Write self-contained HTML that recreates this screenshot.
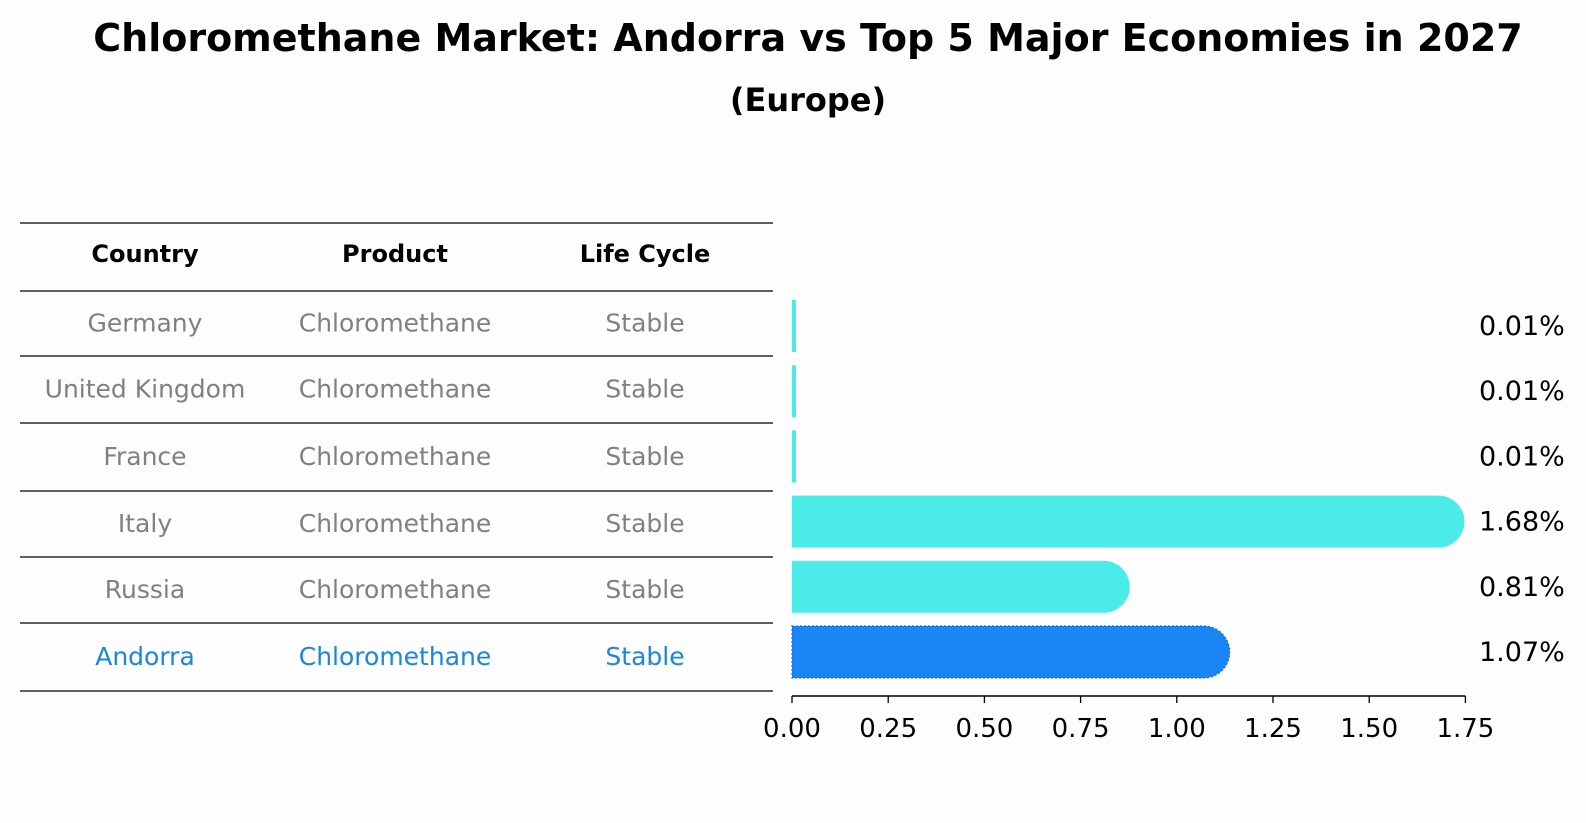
<!DOCTYPE html>
<html><head><meta charset="utf-8"><style>
html,body{margin:0;padding:0;background:#fdfdfd;}
svg{display:block;font-family:"DejaVu Sans","Liberation Sans",sans-serif;}
</style></head><body>
<svg id="chart" width="1586" height="823" viewBox="0 0 1586 823">
<rect width="1586" height="823" fill="#fdfdfd"/>
<text x="808" y="51" text-anchor="middle" font-size="38" font-weight="bold">Chloromethane Market: Andorra vs Top 5 Major Economies in 2027</text>
<text x="808" y="111" text-anchor="middle" font-size="32" font-weight="bold">(Europe)</text>
<g id="table"></g>
<g id="bars"></g>
</svg>
<script>
const countries = ["Germany","United Kingdom","France","Italy","Russia","Andorra"];
const products = ["Chloromethane","Chloromethane","Chloromethane","Chloromethane","Chloromethane","Chloromethane"];
const lifeCycles = ["Stable","Stable","Stable","Stable","Stable","Stable"];
const values = [0.01,0.01,0.01,1.68,0.81,1.07];
const valueLabels = ["0.01%","0.01%","0.01%","1.68%","0.81%","1.07%"];
const ticks = [0,0.25,0.5,0.75,1.0,1.25,1.5,1.75];
const tickLabels = ["0.00","0.25","0.50","0.75","1.00","1.25","1.50","1.75"];

const NS="http://www.w3.org/2000/svg";
function mk(tag,attrs,parent,text){const e=document.createElementNS(NS,tag);for(const k in attrs)e.setAttribute(k,attrs[k]);if(text!==undefined)e.textContent=text;parent.appendChild(e);return e;}
const x0=792, pxPerUnit=384.8;
const xs=v=>x0+v*pxPerUnit;
const rowStep=65.2, firstBarCenter=326, barH=52;
const ys=i=>firstBarCenter+i*rowStep;

// table
const tbl=document.getElementById('table');
const lineY=[223,291,356,423,491,557,623,691];
lineY.forEach((y,i)=>{
  const l=mk('line',{x1:20,x2:773,y1:y,y2:y,stroke:'#000','stroke-width':1.2},tbl);
  
  
});
const colX=[145,395,645];
["Country","Product","Life Cycle"].forEach((h,j)=>{
  const t=mk('text',{x:colX[j],y:262,'text-anchor':'middle','font-size':24,'font-weight':'bold'},tbl,h);
  
  
});
countries.forEach((c,i)=>{
  const y=(lineY[i+1]+lineY[i+2])/2+8;
  const col=c==="Andorra"?"#1a86e0":"#808080";
  [c,products[i],lifeCycles[i]].forEach((v,j)=>{
    const t=mk('text',{x:colX[j],y:y,'text-anchor':'middle','font-size':25,fill:col},tbl,v);
    
    
  });
});

// bars
const g=document.getElementById('bars');
values.forEach((v,i)=>{
  const cy=ys(i), top=cy-barH/2, w=v*pxPerUnit, r=barH/2;
  const col=countries[i]==="Andorra"?"#1a86f5":"#4aebe8";
  let d;
  if(w<8){
    d=`M${x0},${top}h4v${barH}h-4z`;
  }else{
    d=`M${x0},${top}H${x0+w}A${r},${r} 0 0 1 ${x0+w},${top+barH}H${x0}Z`;
  }
  const p=mk('path',{d:d,fill:col},g);
  if(countries[i]==="Andorra"){p.setAttribute('stroke','#1560c0');p.setAttribute('stroke-dasharray','2,2');p.setAttribute('stroke-width','1');}
  
  
  const t=mk('text',{x:1479,y:cy+9,'font-size':27,fill:'#000'},g,valueLabels[i]);
  
  
});
// axis
const ax=mk('line',{x1:xs(0),x2:xs(1.75),y1:696,y2:696,stroke:'#000','stroke-width':1.5},g);


ticks.forEach((tv,i)=>{
  const tk=mk('line',{x1:xs(tv),x2:xs(tv),y1:696,y2:703,stroke:'#000','stroke-width':1.3},g);
  
  
  const t=mk('text',{x:xs(tv),y:737,'text-anchor':'middle','font-size':26},g,tickLabels[i]);
  
  
});
</script>
</body></html>
